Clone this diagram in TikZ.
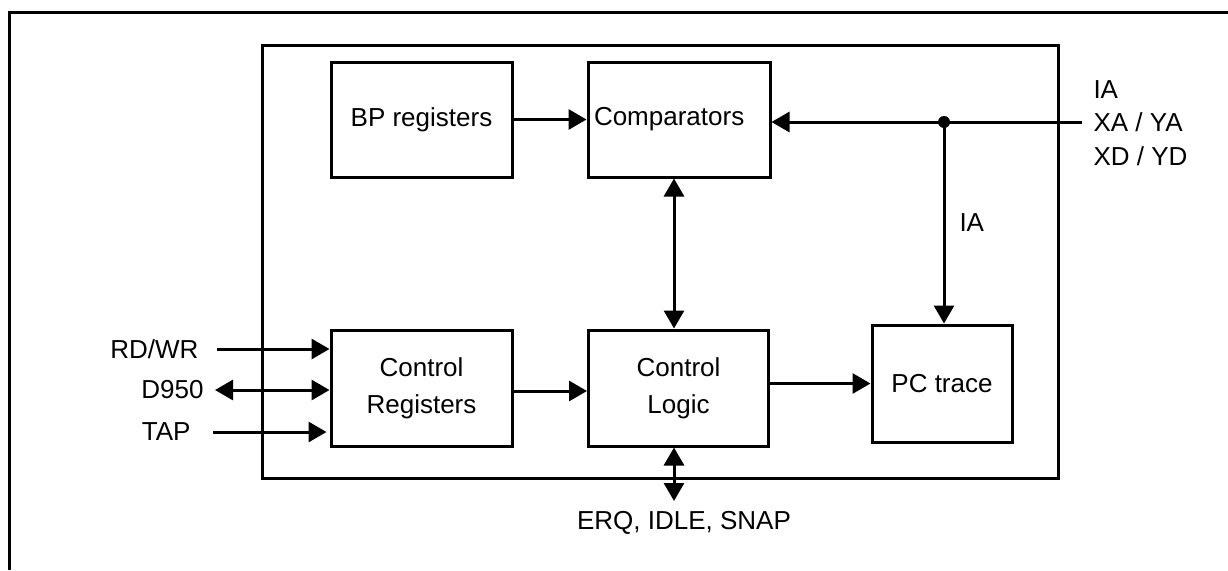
\documentclass[tikz,border=0pt]{standalone}
\usepackage{fontspec}
\setmainfont{Liberation Sans}
\usepackage{tikz}
\usetikzlibrary{arrows.meta}

\begin{document}
\begin{tikzpicture}[x=1pt, y=-1pt, line width=3pt,
  font=\fontsize{26}{37}\selectfont,
  blk/.style={draw, align=center, inner sep=0pt},
  lbl/.style={inner sep=2pt},
  arr/.style={-{Triangle[length=18pt,width=20pt]}},
  darr/.style={{Triangle[length=18pt,width=20pt]}-{Triangle[length=18pt,width=20pt]}}]
\useasboundingbox (0,0) rectangle (1228,570);
\draw (1228,12) -- (9,12) -- (9,570);
\draw (262,45) rectangle (1058,478);
\node[blk, minimum width=181pt, minimum height=115pt] (bp) at (421.5,119.5) {BP registers};
\node[blk, minimum width=182pt, minimum height=115pt, text width=170pt, align=left] (comp) at (679,119.5) {Comparators};
\node[blk, minimum width=181pt, minimum height=116pt, text width=168pt, align=center] (creg) at (421.5,388) {Control\\Registers};
\node[blk, minimum width=180pt, minimum height=116pt] (clog) at (678.5,388) {Control\\Logic};
\node[blk, minimum width=140pt, minimum height=117pt] (pc) at (942,383.5) {PC trace};
\node[lbl, anchor=west] (ia) at (1090,90) {IA};
\node[lbl, anchor=west] (xa) at (1090,122) {XA / YA};
\node[lbl, anchor=west] (xd) at (1090,156) {XD / YD};
\node[lbl, anchor=east] (rdwr) at (202,349) {RD/WR};
\node[lbl, anchor=east] (d950) at (207,390) {D950};
\node[lbl, anchor=east] (tap) at (194,432) {TAP};
\node[lbl] (erq) at (684,523) {ERQ, IDLE, SNAP};
\coordinate (xin) at (1082,122);
\coordinate (tap0) at (944,122);
\coordinate (sig) at (674,501);
\draw[arr] (bp) -- (comp);
\draw[arr] (xin) -- (xin -| comp.east);
\fill (tap0) circle (6pt);
\draw[arr] (tap0) -- node[lbl, right, pos=0.5, xshift=12pt] {IA} (tap0 |- pc.north);
\draw[darr] (comp.south -| sig) -- (clog.north -| sig);
\draw[arr] ([yshift=-3pt]creg.east) -- ([yshift=-3pt]clog.west);
\draw[arr] (clog.east |- pc.west) -- (pc.west);
\draw[darr] (clog.south -| sig) -- (sig);
\draw[arr] ([xshift=15pt]rdwr.east) -- (rdwr.east -| creg.west);
\draw[darr] ([xshift=8pt]d950.east) -- (d950.east -| creg.west);
\draw[arr] ([xshift=19pt]tap.east) -- ([xshift=-3pt]tap.east -| creg.west);
\end{tikzpicture}
\end{document}
